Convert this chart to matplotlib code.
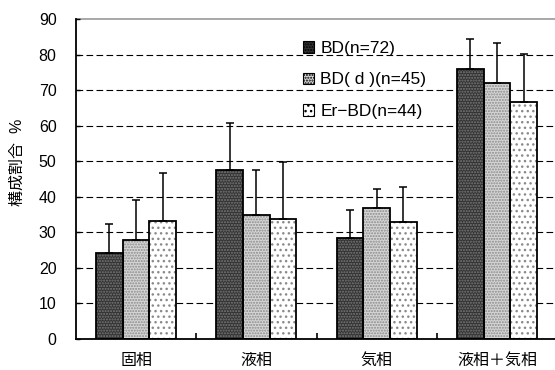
import matplotlib
matplotlib.use("Agg")
import matplotlib.pyplot as plt
from matplotlib.patches import Rectangle
import numpy as np

plt.rcParams['font.family'] = ['Liberation Sans', 'Noto Sans CJK JP', 'DejaVu Sans']

categories = ['固相', '液相', '気相', '液相＋気相']
series_names = ['BD(n=72)', 'BD( d )(n=45)', 'Er−BD(n=44)']
bd_mean = [24.1, 47.5, 28.3, 75.8]
bd_upper = [32.4, 60.7, 36.4, 84.3]
bdd_mean = [27.8, 35.0, 36.8, 72.1]
bdd_upper = [39.2, 47.5, 42.3, 83.3]
erbd_mean = [33.2, 33.7, 33.0, 66.7]
erbd_upper = [46.6, 49.7, 42.7, 80.1]
yticks = [0, 10, 20, 30, 40, 50, 60, 70, 80, 90]

means = [bd_mean, bdd_mean, erbd_mean]
uppers = [bd_upper, bdd_upper, erbd_upper]
faces = ['#333333', '#d6d6d6', '#ffffff']
hatch_cols = ['#7a7a7a', '#8a8a8a', '#8a8a8a']
hatches = ['......', '......', '...']

fig = plt.figure(figsize=(5.55, 3.7), dpi=100)
W, H = 555, 370
ax = fig.add_axes([76 / W, 1 - 339 / H, (557 - 76) / W, (339 - 19) / H])

plt.rcParams['hatch.linewidth'] = 1.0
x = np.arange(len(categories))
bw = 0.222
handles = []
for i, (m, u) in enumerate(zip(means, uppers)):
    pos = x + (i - 1) * bw
    ax.bar(pos, m, bw, color=faces[i], edgecolor=hatch_cols[i],
           hatch=hatches[i], linewidth=0, zorder=2)
    ax.bar(pos, m, bw, facecolor='none', edgecolor='black',
           linewidth=1.3, zorder=3)
    err = np.array(u) - np.array(m)
    ax.errorbar(pos, m, yerr=[np.zeros_like(err), err], fmt='none',
                ecolor='black', elinewidth=1.1, capsize=3.0, capthick=1.1,
                zorder=4)
    handles.append(Rectangle((0, 0), 1, 1, facecolor=faces[i],
                             edgecolor='black', hatch=hatches[i],
                             linewidth=0.8))

ax.set_xlim(-0.5, 3.5)
ax.set_ylim(0, 90)
ax.set_yticks(yticks)
ax.set_yticklabels([str(t) for t in yticks], fontsize=11.5)
for t in yticks[1:-1]:
    ax.axhline(t, color='black', linewidth=0.8, linestyle=(0, (6, 3)), zorder=1)
ax.axhline(90, color='#9a9a9a', linewidth=1.2, zorder=1, clip_on=False)

ax.set_xticks(x)
ax.set_xticklabels(categories, fontsize=11.5)
ax.tick_params(axis='x', length=0, pad=10)
ax.set_xticks(np.arange(0.5, 3.5, 1), minor=True)
ax.tick_params(axis='x', which='minor', direction='in', length=4, width=1.2)
ax.tick_params(axis='y', direction='in', length=3, width=1.0, pad=14)

for s in ['top', 'right']:
    ax.spines[s].set_visible(False)
ax.spines['left'].set_linewidth(1.3)
ax.spines['bottom'].set_linewidth(1.3)

fig.text(17 / W, 1 - 162 / H, '構成割合  %', rotation=90, fontsize=11.5,
         ha='center', va='center')

ax.legend(handles, series_names, loc='upper left', frameon=False,
          bbox_to_anchor=((296 - 76) / (557 - 76), 1 - (34 - 19) / 320),
          fontsize=12.5, handlelength=0.65, handleheight=0.65,
          handletextpad=0.35, labelspacing=0.95, borderaxespad=0)

fig.savefig('out.png', dpi=100, facecolor='white')
